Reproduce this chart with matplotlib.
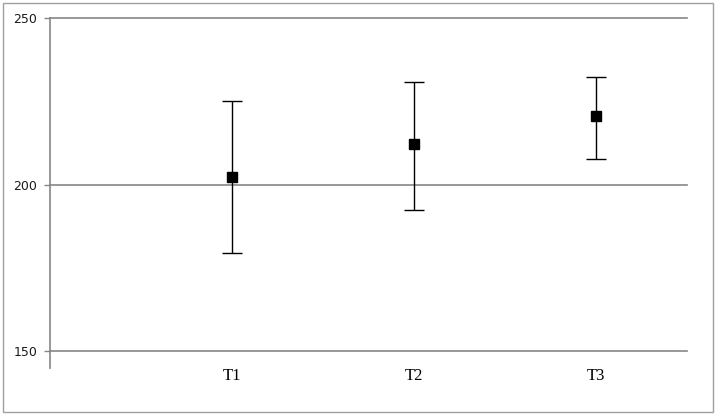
import matplotlib.pyplot as plt
from matplotlib.patches import Rectangle
from matplotlib.lines import Line2D

# values
groups = ["T1", "T2", "T3"]
means = [202.4, 212.2, 220.5]
upper = [225.2, 230.8, 232.2]
lower = [179.4, 192.3, 207.8]

err_lo = [m - lo for m, lo in zip(means, lower)]
err_hi = [hi - m for m, hi in zip(means, upper)]
xpos = list(range(1, len(groups) + 1))

W, H, DPI = 717, 417, 100
fig = plt.figure(figsize=(W / DPI, H / DPI), dpi=DPI)
ax = fig.add_axes([50 / W, 1 - 351 / H, 637 / W, 333 / H])

grid_c = "#868686"
ax.set_ylim(150, 250)
ax.set_xlim(0, 3.5)
for yv in (150, 200, 250):
    ax.axhline(yv, color=grid_c, lw=1.2, zorder=1, clip_on=False)

ax.errorbar(xpos, means, yerr=[err_lo, err_hi], fmt="s", color="black",
            ms=6.5, ecolor="black", elinewidth=1, capsize=7, capthick=1, zorder=3)

for s in ("top", "right", "bottom"):
    ax.spines[s].set_visible(False)
ax.spines["left"].set_color(grid_c)
ax.spines["left"].set_linewidth(1.2)
# y axis line runs a little below the plot
ax.add_line(Line2D([0, 0], [0, -17 / 333], transform=ax.transAxes,
                   color=grid_c, lw=1.2, clip_on=False))

ax.set_yticks([150, 200, 250])
ax.tick_params(axis="y", length=4, width=1, color=grid_c, pad=5,
               labelsize=9, labelcolor="#1a1a1a")
ax.set_xticks(xpos, groups, family="Liberation Serif", fontsize=12)
ax.tick_params(axis="x", length=0, pad=12)

fig.patches.append(Rectangle((3 / W, 5 / H), 710 / W, 409 / H, transform=fig.transFigure,
                             fill=False, edgecolor="#a0a0a0", lw=1))

fig.savefig("out.png", dpi=DPI)
